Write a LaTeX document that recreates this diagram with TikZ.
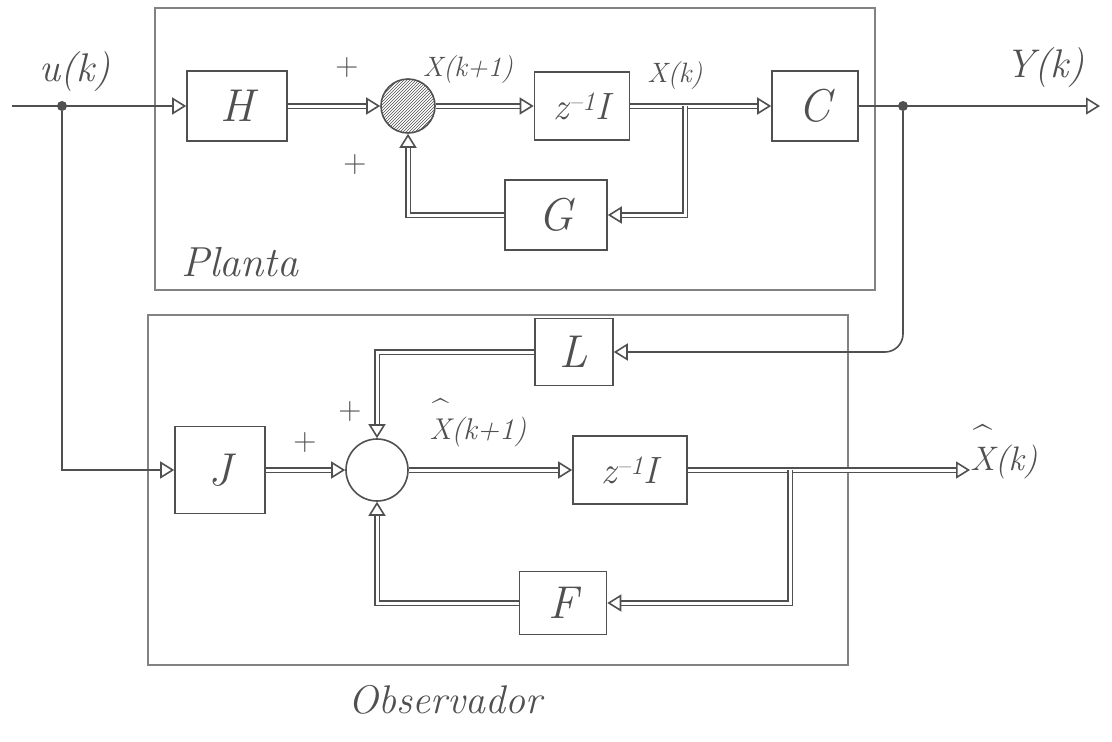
\documentclass[tikz,border=0pt]{standalone}
\usetikzlibrary{arrows.meta,patterns}
\definecolor{ink}{RGB}{80,80,80}
\definecolor{frameink}{RGB}{130,130,130}
\newcommand{\hatX}{\ooalign{X\cr\hidewidth\raisebox{0.62em}{\upshape\textasciicircum}\hidewidth\cr}}
\begin{document}
\begin{tikzpicture}[x=1pt,y=-1pt,
  blk/.style={draw=ink, line width=1.6pt, rectangle, inner sep=0pt, text=ink,
    font=\itshape\fontsize{46}{50}\selectfont},
  sumnode/.style={draw=ink, line width=1.6pt, circle, inner sep=0pt},
  sig/.style={draw=ink, line width=1.6pt, -{Triangle[open,length=14pt,width=17pt]}},
  vec/.style={sig, double=white, double distance=3pt},
  frame/.style={draw=frameink, line width=1.2pt},
  lbl/.style={text=ink, inner sep=0pt},
  dot/.style={circle, fill=ink, inner sep=0pt, minimum size=10pt}
]
\useasboundingbox (0,0) rectangle (1112,742);

% frames
\draw[frame] (155,8) rectangle (875,290);
\draw[frame] (148,315) rectangle (848,665);

% plant blocks
\node[blk, minimum width=100pt, minimum height=70pt] (H) at (237,106) {H};
\node[sumnode, minimum size=54pt, pattern=north east lines, pattern color=ink] (S1) at (408,106) {};
\node[blk, minimum width=95pt, minimum height=68pt, font=\itshape\fontsize{38}{42}\selectfont] (Z1) at (582,106) {z\textsuperscript{--1}I};
\node[blk, minimum width=86pt, minimum height=70pt] (C) at (815,106) {C};
\node[blk, minimum width=102pt, minimum height=70pt] (G) at (556,215) {G};

% observer blocks
\node[blk, minimum width=78pt, minimum height=67pt] (L) at (574,352) {L};
\node[blk, minimum width=90pt, minimum height=87pt] (J) at (220,470) {J};
\node[sumnode, minimum size=62pt] (S2) at (377,470) {};
\node[blk, minimum width=114pt, minimum height=68pt, font=\itshape\fontsize{38}{42}\selectfont] (Z2) at (630,470) {z\textsuperscript{--1}I};
\node[blk, minimum width=87pt, minimum height=63pt] (F) at (563,603) {F};

% points
\coordinate (in) at (12,106);
\node[dot] (U) at (62,106) {};
\node[dot] (Yd) at (903,106) {};
\coordinate (out) at (1100,106);
\coordinate (B1) at (685,106);
\coordinate (B2) at (790,470);

% labels
\node[lbl, font=\itshape\fontsize{40}{44}\selectfont] (uk) at (75,72) {u(k)};
\node[lbl, font=\itshape\fontsize{40}{44}\selectfont] (yk) at (1045,68) {Y(k)};
\node[lbl, font=\itshape\fontsize{28}{32}\selectfont] (xk1) at (468,70) {X(k+1)};
\node[lbl, font=\itshape\fontsize{28}{32}\selectfont] (xk) at (675,76) {X(k)};
\node[lbl, font=\fontsize{32}{36}\selectfont] (p1) at (347,68) {+};
\node[lbl, font=\fontsize{32}{36}\selectfont] (p2) at (355,165) {+};
\node[lbl, font=\fontsize{32}{36}\selectfont] (p3) at (305,443) {+};
\node[lbl, font=\fontsize{32}{36}\selectfont] (p4) at (350,412) {+};
\node[lbl, font=\itshape\fontsize{30}{34}\selectfont] (xh1) at (478,432) {\hatX(k+1)};
\node[lbl, anchor=west, font=\itshape\fontsize{34}{38}\selectfont] (XK) at (970,462) {\hatX(k)};
\node[lbl, font=\itshape\fontsize{42}{46}\selectfont] (pl) at (240,262) {Planta};
\node[lbl, font=\itshape\fontsize{40}{44}\selectfont] (ob) at (445,700) {Observador};

% plant connections
\draw[sig] (in) -- (H.west);
\draw[vec] (H.east) -- (S1.west);
\draw[vec] (S1.east) -- (Z1.west);
\draw[vec] (Z1.east) -- (C.west);
\draw[vec] (B1) |- (G.east);
\draw[vec] (G.west) -| (S1.south);
\draw[sig] (C.east) -- (out);

% observer connections
\draw[sig, rounded corners=18pt] (Yd) |- (L.east);
\draw[sig] (U) |- (J.west);
\draw[vec] (J.east) -- (S2.west);
\draw[vec] (L.west) -| (S2.north);
\draw[vec] (S2.east) -- (Z2.west);
\draw[vec] (Z2.east) -- (Z2.east -| XK.west);
\draw[vec] (B2) |- (F.east);
\draw[vec] (F.west) -| (S2.south);
\end{tikzpicture}
\end{document}
